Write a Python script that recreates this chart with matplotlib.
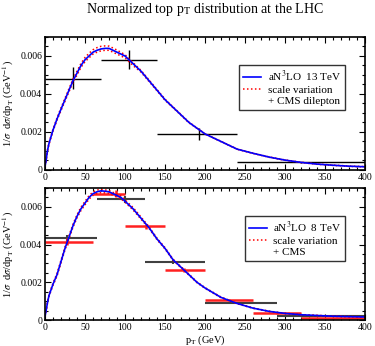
import numpy as np
import matplotlib
matplotlib.use('Agg')
import matplotlib.pyplot as plt
from matplotlib.lines import Line2D
from matplotlib.ticker import MultipleLocator, FuncFormatter

plt.rcParams['font.family'] = ['Liberation Serif', 'DejaVu Serif']
plt.rcParams['mathtext.fontset'] = 'stix'

# theory curves, 13 TeV (top)
pt13 = [0, 1, 3, 5, 10, 15, 20, 25, 30, 35, 40, 45, 50, 55, 60, 65, 70, 75, 80, 85, 90, 95,
        100, 105, 110, 120, 130, 140, 150, 160, 170, 180, 190, 200, 220, 240, 260, 280,
        300, 320, 340, 360, 380, 400]
c13 = [0.0002, 0.0004, 0.0010, 0.0014, 0.0021, 0.00268, 0.0032, 0.0037, 0.0042, 0.0047,
       0.0051, 0.0055, 0.0058, 0.0060, 0.0062, 0.0063, 0.00637, 0.0064, 0.0064, 0.0063,
       0.0062, 0.0061, 0.0060, 0.0058, 0.0056, 0.0052, 0.0047, 0.0042, 0.0037, 0.0033,
       0.0029, 0.0025, 0.0022, 0.0019, 0.0015, 0.0011, 0.00088, 0.00068, 0.00052, 0.0004,
       0.00031, 0.00025, 0.0002, 0.00017]
up13 = [0.00022, 0.00043, 0.00104, 0.00145, 0.00215, 0.00274, 0.00327, 0.00378, 0.00428,
        0.00479, 0.0052, 0.00561, 0.00592, 0.00614, 0.00633, 0.00644, 0.00651, 0.00653,
        0.00652, 0.00642, 0.00631, 0.00619, 0.00607, 0.00586, 0.00565, 0.00524, 0.00474,
        0.00423, 0.00373, 0.00332, 0.00292, 0.00252, 0.00221, 0.00191, 0.00151, 0.00111,
        0.00089, 0.00069, 0.00053, 0.00041, 0.00032, 0.00026, 0.00021, 0.00018]
lo13 = [0.00018, 0.00037, 0.00096, 0.00135, 0.00205, 0.00262, 0.00313, 0.00362, 0.00412,
        0.00461, 0.005, 0.0054, 0.0057, 0.0059, 0.0061, 0.0062, 0.00627, 0.0063, 0.0063,
        0.0062, 0.0061, 0.006, 0.0059, 0.0057, 0.0055, 0.00515, 0.00466, 0.00417, 0.00367,
        0.00328, 0.00288, 0.00248, 0.00219, 0.00189, 0.00149, 0.00109, 0.00087, 0.00067,
        0.00051, 0.00039, 0.0003, 0.00024, 0.00019, 0.00016]

# theory curves, 8 TeV (bottom)
pt8 = pt13
c8 = [0.0002, 0.0004, 0.0009, 0.0013, 0.0019, 0.0024, 0.0031, 0.0038, 0.0044, 0.0050,
      0.0055, 0.0059, 0.0062, 0.0065, 0.0067, 0.0068, 0.00685, 0.00683, 0.0068, 0.0067,
      0.0066, 0.0065, 0.0063, 0.0061, 0.0059, 0.0054, 0.0049, 0.0043, 0.0038, 0.0032,
      0.0028, 0.0024, 0.0020, 0.0017, 0.0012, 0.00088, 0.00063, 0.00046, 0.00035, 0.00028,
      0.00024, 0.0002, 0.00018, 0.00016]
up8 = [0.00022, 0.00043, 0.00094, 0.00135, 0.00196, 0.00247, 0.00317, 0.00388, 0.00448,
       0.00508, 0.00558, 0.00599, 0.00629, 0.00659, 0.00679, 0.00689, 0.00693, 0.0069,
       0.00687, 0.00677, 0.00667, 0.00657, 0.00637, 0.00617, 0.00597, 0.00546, 0.00495,
       0.00434, 0.00384, 0.00323, 0.00283, 0.00243, 0.00202, 0.00172, 0.00122, 0.00089,
       0.00064, 0.00047, 0.00036, 0.00029, 0.00025, 0.00021, 0.00019, 0.00017]
lo8 = [0.00018, 0.00037, 0.00086, 0.00125, 0.00184, 0.00233, 0.00303, 0.00372, 0.00432,
       0.00492, 0.00542, 0.00581, 0.00611, 0.00641, 0.00661, 0.00671, 0.00676, 0.00674,
       0.00672, 0.00662, 0.00653, 0.00643, 0.00624, 0.00604, 0.00584, 0.00535, 0.00486,
       0.00426, 0.00377, 0.00317, 0.00277, 0.00238, 0.00198, 0.00168, 0.00118, 0.00087,
       0.00062, 0.00045, 0.00034, 0.00027, 0.00023, 0.00019, 0.00017, 0.00015]

# CMS dilepton 13 TeV
d13_lo = [0, 70, 140, 240]
d13_hi = [70, 140, 240, 400]
d13_x = [35, 105, 192, 320]
d13_y = [0.0048, 0.0058, 0.0019, 0.0004]
d13_em = [0.00056, 0.0005, 0.0003, 0.00004]
d13_ep = [0.0006, 0.0005, 0.0003, 0.00004]

# CMS 8 TeV, black
db_lo = [0, 65, 125, 200, 290]
db_hi = [65, 125, 200, 290, 400]
db_x = [28, 100, 160, 245, 340]
db_y = [0.00433, 0.0064, 0.00307, 0.00088, 0.00021]
db_e = [0.0002, 0.0002, 0.00012, 0.00006, 0.00003]

# CMS 8 TeV, red
dr_lo = [0, 60, 100, 150, 200, 260, 320]
dr_hi = [60, 100, 150, 200, 260, 320, 400]
dr_x = [27, 89, 126, 174, 230, 290, 360]
dr_y = [0.00415, 0.00669, 0.00496, 0.00267, 0.00104, 0.00036, 0.0001]
dr_e = [0.00018, 0.00018, 0.00015, 0.0001, 0.00005, 0.00003, 0.00002]

DOT = (0, (1, 1.6))


def draw_data(ax, lo, hi, x, y, em, ep, col, lw):
    x = np.array(x)
    ax.errorbar(x, y, xerr=[x - np.array(lo), np.array(hi) - x], yerr=[em, ep],
                fmt='none', ecolor=col, elinewidth=lw, capsize=0)


def style(ax):
    ax.set_xlim(0, 400)
    ax.set_ylim(0, 0.007)
    ax.xaxis.set_major_locator(MultipleLocator(50))
    ax.xaxis.set_minor_locator(MultipleLocator(10))
    ax.yaxis.set_major_locator(MultipleLocator(0.002))
    ax.yaxis.set_minor_locator(MultipleLocator(0.0005))
    ax.yaxis.set_major_formatter(FuncFormatter(lambda v, p: '0' if v == 0 else '%.3f' % v))
    ax.tick_params(which='both', direction='in', top=True, right=True, labelsize=7, pad=2)
    ax.tick_params(which='major', length=4, width=0.8)
    ax.tick_params(which='minor', length=2, width=0.8)
    ax.set_ylabel(r'1/$\sigma$  d$\sigma$/dp$_{\rm T}$ (GeV$^{-1}$)', fontsize=7.5, labelpad=3)
    for s in ax.spines.values():
        s.set_linewidth(1.2)


fig = plt.figure(figsize=(3.75, 3.46), dpi=100)
ax1 = fig.add_axes([0.12, 0.5087, 0.8533, 0.3844])
ax2 = fig.add_axes([0.12, 0.0751, 0.8533, 0.3815])

# top
draw_data(ax1, d13_lo, d13_hi, d13_x, d13_y, d13_em, d13_ep, 'black', 1.0)
ax1.plot(pt13, up13, color='red', ls=DOT, lw=1.1)
ax1.plot(pt13, lo13, color='red', ls=DOT, lw=1.1)
ax1.plot(pt13, c13, color='blue', lw=1.2)
style(ax1)
ax1.set_title(r'Normalized top p$_{\rm T}$ distribution at the LHC', fontsize=10, pad=17)

# bottom
draw_data(ax2, db_lo, db_hi, db_x, db_y, db_e, db_e, '#404040', 1.5)
draw_data(ax2, dr_lo, dr_hi, dr_x, dr_y, dr_e, dr_e, '#ff2020', 1.8)
ax2.plot(pt8, up8, color='red', ls=DOT, lw=1.1)
ax2.plot(pt8, lo8, color='red', ls=DOT, lw=1.1)
ax2.plot(pt8, c8, color='blue', lw=1.2)
style(ax2)
ax2.set_xlabel(r'p$_{\rm T}$ (GeV)', fontsize=7.5, labelpad=1)

for ax, lab, extra in [(ax1, r'aN$^3$LO  13 TeV', '+ CMS dilepton'),
                       (ax2, r'aN$^3$LO  8 TeV', '+ CMS')]:
    h = [Line2D([], [], color='blue', lw=1.2),
         Line2D([], [], color='red', ls=DOT, lw=1.1),
         Line2D([], [], color='none')]
    leg = ax.legend(h, [lab, 'scale variation', extra], loc='upper right',
                    bbox_to_anchor=(0.955, 0.83), fontsize=8, frameon=True, fancybox=False,
                    edgecolor='black', handlelength=1.6, handletextpad=0.6,
                    borderpad=0.35, labelspacing=0.12)
    leg.get_frame().set_linewidth(1.0)

fig.savefig('out.png', dpi=100)
